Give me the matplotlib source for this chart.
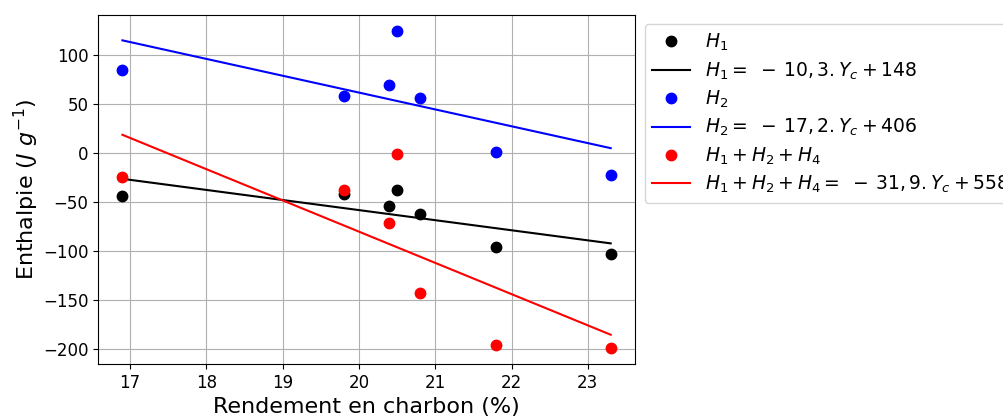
import matplotlib
matplotlib.use("Agg")
import matplotlib.pyplot as plt
import numpy as np

# rendement en charbon (%)
yc = [16.9, 19.8, 20.4, 20.5, 20.8, 21.8, 23.3]

h1 = [-44, -42, -54, -37, -62, -96, -103]
h2 = [85, 58, 70, 125, 56, 1, -22]
h124 = [-24, -37, -71, -1, -143, -196, -199]

# coefficients lus dans la légende (pente, ordonnée)
fit_h1 = (-10.3, 148)
fit_h2 = (-17.2, 406)
fit_h124 = (-31.9, 558)

series = [
    (h1, fit_h1, "black", r"$H_1$", r"$H_1 =\ -\,10,3.Y_c + 148$"),
    (h2, fit_h2, "blue", r"$H_2$", r"$H_2 =\ -\,17,2.Y_c + 406$"),
    (h124, fit_h124, "red", r"$H_1 + H_2 + H_4$",
     r"$H_1 + H_2 + H_4 =\ -\,31,9.Y_c + 558$"),
]

fig = plt.figure(figsize=(10.04, 4.17), dpi=100)
ax = fig.add_axes([0.0976, 0.127, 0.535, 0.837])

x = np.array([min(yc), max(yc)])
for vals, (a, b), col, lab_pts, lab_fit in series:
    ax.plot(yc, vals, "o", color=col, markersize=7.5, label=lab_pts)
    ax.plot(x, a * x + b, "-", color=col, linewidth=1.5, label=lab_fit)

ax.grid(True)
ax.tick_params(labelsize=12)
ax.set_xlabel("Rendement en charbon (%)", fontsize=16)
ax.set_ylabel(r"Enthalpie ($J\ g^{-1}$)", fontsize=16, labelpad=1)
ax.legend(loc="upper left", bbox_to_anchor=(1.0, 1.0), fontsize=13.5,
          labelspacing=0.38)

fig.savefig("out.png", dpi=100)
